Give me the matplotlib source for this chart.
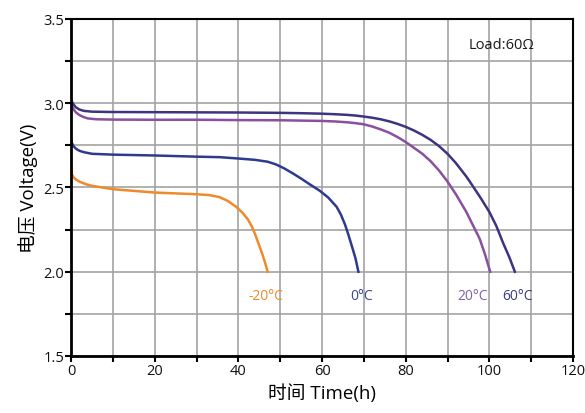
import matplotlib
matplotlib.use("Agg")
import matplotlib.pyplot as plt
from matplotlib.ticker import MultipleLocator

plt.rcParams['font.family'] = ['Open Sans', 'Noto Sans CJK SC', 'DejaVu Sans']

# discharge curves, time (h) vs voltage (V)
t_60 = [0, 0.3, 0.7, 1.2, 2, 3, 5, 10, 20, 30, 40, 50, 55, 60, 63, 66, 68,
        70, 72, 74, 76, 78, 80, 82, 84, 86, 88, 90, 92, 94.5, 96, 98, 100,
        101.7, 103.3, 104.8, 106.1]
v_60 = [3.02, 3.005, 2.99, 2.975, 2.963, 2.955, 2.95, 2.948, 2.947, 2.946,
        2.945, 2.943, 2.941, 2.938, 2.935, 2.931, 2.927, 2.921, 2.914, 2.905,
        2.893, 2.878, 2.86, 2.838, 2.812, 2.782, 2.745, 2.70, 2.645, 2.565,
        2.51, 2.435, 2.355, 2.27, 2.17, 2.085, 2.0]

t_20 = [0, 0.3, 0.7, 1.2, 2, 3, 4, 6, 10, 20, 30, 40, 50, 60, 63, 66, 68,
        70, 72, 74, 76, 78, 80, 82, 84, 86, 88, 90, 92, 94.5, 96, 97.7, 99,
        100.2]
v_20 = [3.0, 2.98, 2.96, 2.945, 2.93, 2.918, 2.91, 2.905, 2.903, 2.902,
        2.902, 2.9, 2.899, 2.895, 2.892, 2.887, 2.882, 2.875, 2.862, 2.845,
        2.826, 2.80, 2.77, 2.735, 2.70, 2.655, 2.60, 2.535, 2.46, 2.355, 2.28,
        2.195, 2.10, 2.0]

t_0 = [0, 0.2, 0.6, 1.2, 2, 3, 5, 10, 20, 30, 35.5, 40, 44, 47, 49, 51, 53,
       55, 57, 59.5, 61.5, 63.5, 64.5, 65.5, 66.3, 67.1, 68, 68.7]
v_0 = [2.79, 2.765, 2.745, 2.73, 2.718, 2.71, 2.70, 2.695, 2.69, 2.683,
       2.68, 2.672, 2.664, 2.653, 2.637, 2.613, 2.584, 2.553, 2.52, 2.48,
       2.44, 2.385, 2.34, 2.28, 2.22, 2.155, 2.08, 2.0]

t_m20 = [0, 0.2, 0.6, 1.2, 2, 3.5, 5, 10, 20, 30, 33, 35.5, 37.5, 39.5, 41,
         42.3, 43.3, 44.2, 45, 45.8, 46.5, 47]
v_m20 = [2.64, 2.58, 2.56, 2.547, 2.535, 2.52, 2.51, 2.49, 2.47, 2.46, 2.455,
         2.443, 2.42, 2.385, 2.35, 2.31, 2.265, 2.21, 2.155, 2.10, 2.045, 2.0]

labels = ['-20°C', '0°C', '20°C', '60°C']
label_x = [46.5, 69.5, 96.0, 106.8]
colors = ['#ee8a2a', '#2d3a8f', '#8a4f9e', '#3c3480']
label_colors = ['#ee8a2a', '#3a4591', '#7d62a8', '#3c3a85']

fig = plt.figure(figsize=(5.85, 4.14), dpi=100)
ax = fig.add_axes([0.1214, 0.1377, 0.8581, 0.814])

ax.plot(t_m20, v_m20, color=colors[0], lw=1.8)
ax.plot(t_0, v_0, color=colors[1], lw=1.8)
ax.plot(t_20, v_20, color=colors[2], lw=1.8)
ax.plot(t_60, v_60, color=colors[3], lw=1.8)

for i in range(len(labels)):
    ax.text(label_x[i], 1.86, labels[i], color=label_colors[i], fontsize=10,
            ha='center', va='center')

ax.text(102.8, 3.35, 'Load:60Ω', fontsize=10.5, ha='center', va='center',
        color='#1a1a1a')

ax.set_xlim(0, 120)
ax.set_ylim(1.5, 3.5)
ax.xaxis.set_major_locator(MultipleLocator(20))
ax.xaxis.set_minor_locator(MultipleLocator(10))
ax.yaxis.set_major_locator(MultipleLocator(0.5))
ax.yaxis.set_minor_locator(MultipleLocator(0.25))
ax.yaxis.set_major_formatter(plt.FormatStrFormatter('%.1f'))
ax.grid(True, which='both', color='#a3a3a3', lw=1.2)
ax.set_axisbelow(True)

ax.tick_params(which='both', direction='out', length=4, width=1.5,
               labelsize=10.5, pad=1, color='black', labelcolor='#111111')

for s in ['left', 'bottom']:
    ax.spines[s].set_linewidth(2)
for s in ['top', 'right']:
    ax.spines[s].set_linewidth(1.5)

ax.set_xlabel('时间 Time(h)', fontsize=13.5, labelpad=4)
ax.set_ylabel('电压 Voltage(V)', fontsize=13.5, labelpad=4)

fig.savefig('out.png', dpi=100)
